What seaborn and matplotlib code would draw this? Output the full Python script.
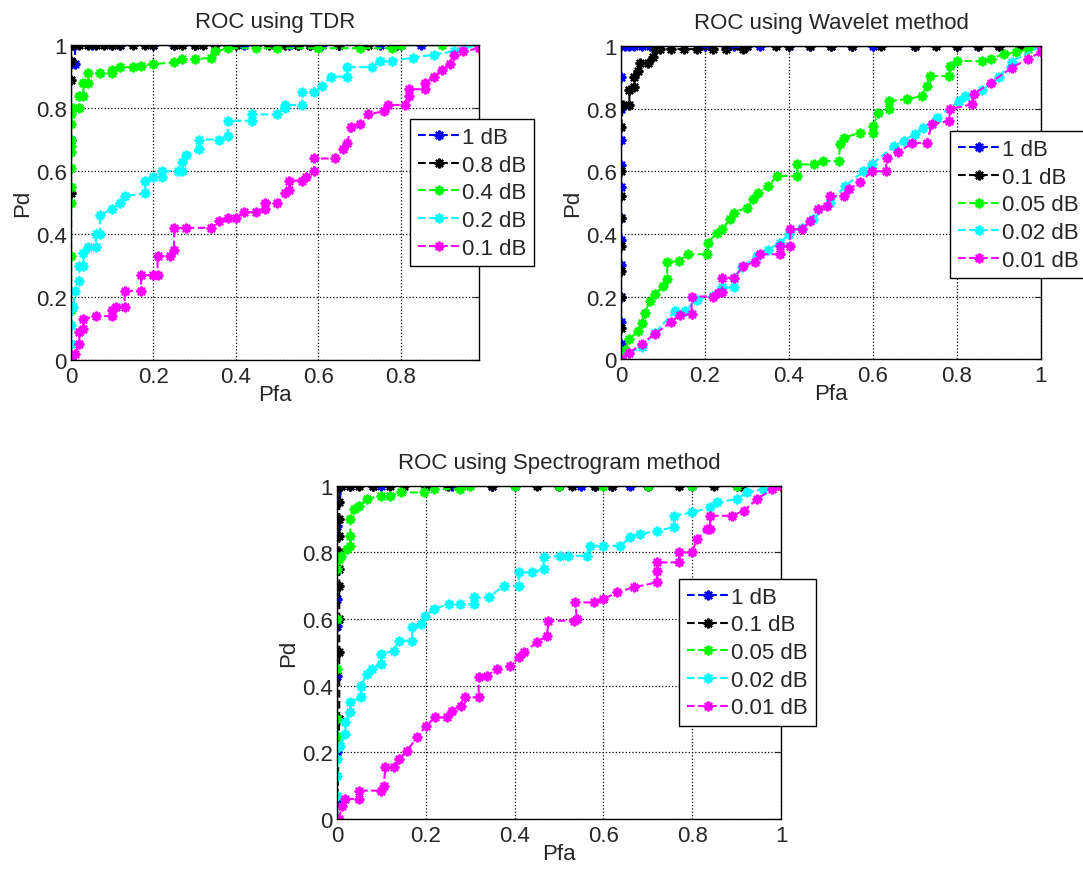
import matplotlib
matplotlib.use("Agg")
import matplotlib.pyplot as plt
import seaborn as sns
from matplotlib.ticker import FuncFormatter

# ---- data (Pfa, Pd staircase points) ----
# ROC using TDR
tdr_labels = ["1 dB", "0.8 dB", "0.4 dB", "0.2 dB", "0.1 dB"]
tdr_1db_pfa = [0, 0, 0, 0.01, 0.01, 0.05, 0.1, 0.12, 0.2, 0.25, 0.3, 0.35, 0.38, 0.42, 0.45, 0.5,
               0.53, 0.55, 0.58, 0.61, 0.65, 0.7, 0.75, 0.8, 0.85, 0.99]
tdr_1db_pd = [0, 0.70, 0.94, 0.94, 1, 1, 1, 1, 1, 1, 1, 1, 1, 1, 1, 1,
              1, 1, 1, 1, 1, 1, 1, 1, 1, 1]
tdr_08db_pfa = [0, 0, 0, 0, 0, 0.005, 0.02, 0.04, 0.06, 0.08, 0.1, 0.12, 0.15, 0.18, 0.2, 0.25,
                0.27, 0.3, 0.32, 0.35, 0.38, 0.4, 0.45, 0.48, 0.5, 0.52, 0.55, 0.58, 0.6, 0.65,
                0.7, 0.72, 0.78, 0.79, 0.99]
tdr_08db_pd = [0, 0.53, 0.89, 0.95, 1, 1, 1, 1, 1, 1, 1, 1, 1, 1, 1, 1,
               1, 1, 1, 1, 1, 1, 1, 1, 1, 1, 1, 1, 1, 1,
               1, 1, 1, 1, 1]
tdr_04db_pfa = [0, 0, 0, 0, 0, 0, 0, 0, 0, 0, 0, 0.005, 0.02, 0.02, 0.03, 0.03, 0.04, 0.04, 0.07,
                0.1, 0.1, 0.12, 0.15, 0.17, 0.2, 0.25, 0.27, 0.3, 0.34, 0.35, 0.38, 0.45, 0.5,
                0.6, 0.7, 0.78, 0.8, 0.9, 0.99]
tdr_04db_pd = [0, 0.16, 0.33, 0.5, 0.55, 0.61, 0.66, 0.68, 0.70, 0.75, 0.78, 0.80, 0.80, 0.84,
               0.84, 0.88, 0.88, 0.91, 0.91, 0.91, 0.92, 0.93, 0.93, 0.935, 0.94, 0.945, 0.955,
               0.955, 0.96, 0.98, 0.99, 0.99, 0.99, 0.99, 0.99, 0.99, 1.0, 1.0, 1.0]
tdr_02db_pfa = [0, 0, 0, 0.005, 0.01, 0.02, 0.02, 0.03, 0.03, 0.04, 0.06, 0.06, 0.07, 0.07, 0.1,
                0.12, 0.13, 0.18, 0.18, 0.2, 0.22, 0.22, 0.26, 0.27, 0.27, 0.28, 0.31, 0.31,
                0.36, 0.38, 0.38, 0.44, 0.44, 0.5, 0.52, 0.52, 0.56, 0.56, 0.59, 0.61, 0.63,
                0.67, 0.67, 0.73, 0.75, 0.78, 0.83, 0.88, 0.93, 0.95, 0.99]
tdr_02db_pd = [0, 0.05, 0.11, 0.17, 0.22, 0.25, 0.30, 0.30, 0.34, 0.36, 0.36, 0.40, 0.40, 0.46,
               0.48, 0.50, 0.52, 0.53, 0.57, 0.58, 0.58, 0.60, 0.60, 0.60, 0.63, 0.65, 0.67, 0.70,
               0.70, 0.71, 0.76, 0.76, 0.78, 0.78, 0.80, 0.81, 0.81, 0.85, 0.85, 0.87, 0.90,
               0.90, 0.93, 0.93, 0.95, 0.95, 0.96, 0.97, 0.98, 0.99, 1.0]
tdr_01db_pfa = [0, 0.01, 0.02, 0.02, 0.03, 0.03, 0.06, 0.1, 0.1, 0.11, 0.13, 0.13, 0.17, 0.17,
                0.2, 0.21, 0.21, 0.24, 0.25, 0.25, 0.28, 0.34, 0.36, 0.38, 0.4, 0.42, 0.45, 0.47,
                0.47, 0.5, 0.52, 0.53, 0.53, 0.56, 0.57, 0.59, 0.59, 0.64, 0.66, 0.67, 0.68, 0.7,
                0.72, 0.76, 0.77, 0.81, 0.82, 0.82, 0.86, 0.86, 0.88, 0.9, 0.92, 0.93, 0.95,
                0.99, 0.99]
tdr_01db_pd = [0, 0.02, 0.05, 0.09, 0.10, 0.13, 0.14, 0.14, 0.16, 0.17, 0.17, 0.22, 0.22, 0.27,
               0.27, 0.27, 0.33, 0.33, 0.35, 0.42, 0.42, 0.42, 0.44, 0.45, 0.45, 0.47, 0.47, 0.48,
               0.50, 0.50, 0.53, 0.54, 0.57, 0.57, 0.58, 0.60, 0.64, 0.64, 0.67, 0.69, 0.74, 0.75,
               0.78, 0.79, 0.81, 0.81, 0.84, 0.86, 0.86, 0.88, 0.90, 0.92, 0.94, 0.97, 0.98,
               0.99, 1.0]

# ROC using Wavelet method
wav_labels = ["1 dB", "0.1 dB", "0.05 dB", "0.02 dB", "0.01 dB"]
wav_1db_pfa = [0, 0, 0, 0, 0, 0, 0, 0, 0, 0, 0, 0, 0, 0.01, 0.02, 0.03, 0.05, 0.07, 0.09, 0.2,
               0.25, 0.27, 0.3, 0.33, 0.4, 0.45, 0.5, 0.55, 0.6, 0.7, 0.8, 0.85, 0.9, 0.95, 1.0]
wav_1db_pd = [0, 0.05, 0.12, 0.2, 0.3, 0.38, 0.45, 0.55, 0.62, 0.7, 0.8, 0.9, 1, 1, 1, 1, 1, 1,
              1, 1, 1, 1, 1, 1, 1, 1, 1, 1, 1, 1, 1, 1, 1, 1, 1]
wav_01db_pfa = [0, 0, 0, 0, 0, 0, 0, 0, 0, 0.005, 0.02, 0.02, 0.03, 0.03, 0.04, 0.045, 0.065,
                0.077, 0.08, 0.093, 0.12, 0.15, 0.18, 0.22, 0.25, 0.29, 0.3, 0.37, 0.4, 0.45,
                0.5, 0.55, 0.62, 0.7, 0.75, 0.8, 0.85, 0.9, 0.95, 1.0]
wav_01db_pd = [0, 0.1, 0.2, 0.28, 0.36, 0.45, 0.52, 0.6, 0.74, 0.81, 0.81, 0.86, 0.87, 0.9, 0.92,
               0.945, 0.945, 0.965, 0.99, 0.99, 0.99, 0.99, 0.99, 0.99, 0.99, 0.99, 1, 1, 1, 1,
               1, 1, 1, 1, 1, 1, 1, 1, 1, 1]
wav_005db_pfa = [0, 0.01, 0.02, 0.04, 0.05, 0.057, 0.069, 0.081, 0.1, 0.11, 0.11, 0.137, 0.16,
                 0.204, 0.208, 0.228, 0.24, 0.26, 0.268, 0.3, 0.315, 0.327, 0.351, 0.371, 0.419,
                 0.419, 0.46, 0.482, 0.518, 0.522, 0.53, 0.57, 0.6, 0.6, 0.613, 0.637, 0.637,
                 0.68, 0.716, 0.728, 0.736, 0.78, 0.784, 0.8, 0.86, 0.88, 0.911, 0.94, 0.97, 1.0]
wav_005db_pd = [0, 0.03, 0.064, 0.09, 0.117, 0.149, 0.186, 0.207, 0.234, 0.255, 0.31, 0.314,
                0.335, 0.335, 0.372, 0.404, 0.415, 0.447, 0.468, 0.484, 0.51, 0.532, 0.553,
                0.585, 0.585, 0.622, 0.622, 0.633, 0.633, 0.686, 0.707, 0.723, 0.723, 0.745,
                0.787, 0.798, 0.824, 0.83, 0.84, 0.872, 0.904, 0.904, 0.936, 0.952, 0.952, 0.96,
                0.973, 0.98, 0.99, 1.0]
wav_002db_pfa = [0, 0.02, 0.05, 0.081, 0.129, 0.152, 0.18, 0.22, 0.24, 0.268, 0.268, 0.288,
                 0.323, 0.35, 0.379, 0.4, 0.43, 0.458, 0.498, 0.534, 0.577, 0.597, 0.65, 0.673,
                 0.7, 0.72, 0.752, 0.804, 0.82, 0.86, 0.9, 0.93, 1.0]
wav_002db_pd = [0, 0.02, 0.04, 0.085, 0.154, 0.154, 0.19, 0.202, 0.229, 0.229, 0.26, 0.293, 0.33,
                0.35, 0.372, 0.4, 0.42, 0.447, 0.5, 0.553, 0.6, 0.622, 0.68, 0.697, 0.72, 0.739,
                0.771, 0.824, 0.84, 0.86, 0.9, 0.95, 1.0]
wav_001db_pfa = [0, 0.02, 0.05, 0.08, 0.12, 0.14, 0.168, 0.168, 0.22, 0.23, 0.24, 0.24, 0.27,
                 0.291, 0.32, 0.331, 0.379, 0.379, 0.403, 0.403, 0.43, 0.45, 0.47, 0.49, 0.498,
                 0.53, 0.542, 0.57, 0.597, 0.63, 0.633, 0.66, 0.693, 0.728, 0.74, 0.78, 0.784,
                 0.836, 0.84, 0.88, 0.93, 0.97, 1.0, 1.0]
wav_001db_pd = [0, 0.02, 0.05, 0.08, 0.12, 0.14, 0.144, 0.2, 0.2, 0.21, 0.213, 0.26, 0.26, 0.298,
                0.31, 0.335, 0.335, 0.362, 0.362, 0.415, 0.415, 0.441, 0.479, 0.49, 0.521, 0.521,
                0.543, 0.565, 0.6, 0.6, 0.643, 0.66, 0.69, 0.69, 0.75, 0.76, 0.798, 0.814, 0.846,
                0.883, 0.93, 0.96, 0.98, 1.0]

# ROC using Spectrogram method
spec_labels = ["1 dB", "0.1 dB", "0.05 dB", "0.02 dB", "0.01 dB"]
spec_1db_pfa = [0, 0, 0, 0, 0, 0, 0, 0, 0, 0.01, 0.03, 0.08, 0.1, 0.2, 0.26, 0.35, 0.4, 0.5,
                0.55, 0.58, 0.62, 0.66, 0.7, 0.8, 0.9, 1.0]
spec_1db_pd = [0, 0.06, 0.2, 0.3, 0.43, 0.58, 0.66, 0.8, 0.88, 1, 1, 1, 1, 1, 1, 1, 1, 1,
               1, 1, 1, 1, 1, 1, 1, 1]
spec_01db_pfa = [0, 0.005, 0.005, 0.005, 0.005, 0.005, 0.005, 0.005, 0.005, 0.005, 0.005, 0.01,
                 0.03, 0.05, 0.08, 0.12, 0.15, 0.2, 0.25, 0.28, 0.35, 0.45, 0.5, 0.53, 0.58, 0.62,
                 0.7, 0.77, 0.85, 0.91, 1.0]
spec_01db_pd = [0, 0.3, 0.5, 0.6, 0.7, 0.75, 0.8, 0.85, 0.9, 0.95, 1, 1, 1, 1, 1, 1, 1, 1, 1, 1,
                1, 1, 1, 1, 1, 1, 1, 1, 1, 1, 1]
spec_005db_pfa = [0, 0, 0, 0, 0, 0, 0.004, 0.01, 0.023, 0.03, 0.03, 0.03, 0.038, 0.049, 0.068,
                  0.098, 0.12, 0.143, 0.195, 0.218, 0.278, 0.3, 0.4, 0.5, 0.6, 0.7, 0.8, 0.9, 1.0]
spec_005db_pd = [0, 0.25, 0.3, 0.45, 0.6, 0.75, 0.78, 0.79, 0.81, 0.82, 0.85, 0.9, 0.93, 0.94,
                 0.96, 0.97, 0.97, 0.98, 0.98, 0.99, 0.99, 1, 1, 1, 1, 1, 1, 1, 1]
spec_002db_pfa = [0, 0, 0, 0, 0.0075, 0.019, 0.019, 0.03, 0.03, 0.053, 0.053, 0.068, 0.079,
                  0.098, 0.1, 0.128, 0.139, 0.169, 0.169, 0.188, 0.199, 0.218, 0.252, 0.278,
                  0.308, 0.308, 0.342, 0.375, 0.409, 0.409, 0.439, 0.465, 0.465, 0.503, 0.52,
                  0.563, 0.57, 0.6, 0.638, 0.66, 0.683, 0.72, 0.758, 0.758, 0.8, 0.84, 0.856,
                  0.9, 0.923, 0.96, 1.0]
spec_002db_pd = [0, 0.07, 0.13, 0.18, 0.22, 0.255, 0.29, 0.32, 0.35, 0.365, 0.4, 0.435, 0.45,
                 0.465, 0.495, 0.505, 0.535, 0.535, 0.575, 0.585, 0.61, 0.63, 0.645, 0.645, 0.645,
                 0.665, 0.665, 0.70, 0.70, 0.74, 0.74, 0.75, 0.785, 0.79, 0.79, 0.79, 0.82, 0.82,
                 0.82, 0.845, 0.855, 0.865, 0.875, 0.91, 0.92, 0.935, 0.95, 0.96, 0.98, 0.99, 1.0]
spec_001db_pfa = [0.004, 0.011, 0.019, 0.049, 0.049, 0.098, 0.105, 0.109, 0.128, 0.139, 0.158,
                  0.18, 0.2, 0.221, 0.248, 0.259, 0.28, 0.289, 0.319, 0.319, 0.338, 0.36, 0.39,
                  0.409, 0.42, 0.45, 0.473, 0.476, 0.533, 0.54, 0.537, 0.578, 0.6, 0.631, 0.668,
                  0.72, 0.72, 0.72, 0.77, 0.77, 0.8, 0.81, 0.833, 0.84, 0.84, 0.89, 0.916, 0.946,
                  0.98, 1.0]
spec_001db_pd = [0, 0.04, 0.06, 0.06, 0.085, 0.085, 0.10, 0.155, 0.155, 0.18, 0.205, 0.245, 0.28,
                 0.305, 0.305, 0.325, 0.34, 0.365, 0.365, 0.425, 0.43, 0.45, 0.46, 0.485, 0.50,
                 0.53, 0.55, 0.595, 0.595, 0.60, 0.65, 0.65, 0.66, 0.68, 0.695, 0.71, 0.745, 0.77,
                 0.77, 0.80, 0.80, 0.84, 0.87, 0.87, 0.91, 0.91, 0.925, 0.96, 0.99, 1.0]

line_colors = ["#0000ff", "#000000", "#00ff00", "#00ffff", "#ff00ff"]

panels = [
    ("ROC using TDR", tdr_labels,
     [(tdr_1db_pfa, tdr_1db_pd), (tdr_08db_pfa, tdr_08db_pd), (tdr_04db_pfa, tdr_04db_pd),
      (tdr_02db_pfa, tdr_02db_pd), (tdr_01db_pfa, tdr_01db_pd)],
     [0.0656, 0.585, 0.3767, 0.362], 0.99, (0.3786, 0.862)),
    ("ROC using Wavelet method", wav_labels,
     [(wav_1db_pfa, wav_1db_pd), (wav_01db_pfa, wav_01db_pd), (wav_005db_pfa, wav_005db_pd),
      (wav_002db_pfa, wav_002db_pd), (wav_001db_pfa, wav_001db_pd)],
     [0.5734, 0.586, 0.3878, 0.360], 1.0, (0.877, 0.848)),
    ("ROC using Spectrogram method", spec_labels,
     [(spec_1db_pfa, spec_1db_pd), (spec_01db_pfa, spec_01db_pd), (spec_005db_pfa, spec_005db_pd),
      (spec_002db_pfa, spec_002db_pd), (spec_001db_pfa, spec_001db_pd)],
     [0.3112, 0.0575, 0.41, 0.383], 1.0, (0.627, 0.3333)),
]

sns.set_style("white")
plt.rcParams["font.family"] = ["Liberation Sans", "DejaVu Sans"]

fig = plt.figure(figsize=(10.83, 8.70), dpi=100)
fmt = FuncFormatter(lambda v, pos: "%g" % round(v, 2))

for title, labels, curves, rect, xmax, leg_pos in panels:
    ax = fig.add_axes(rect)
    for (pfa, pd_), lab, col in zip(curves, labels, line_colors):
        sns.lineplot(x=pfa, y=pd_, sort=False, estimator=None, color=col, label=lab,
                     linestyle="--", linewidth=1.5, marker=(8, 2, 0), markersize=7,
                     markeredgewidth=1.6, markeredgecolor=col, ax=ax)
    ax.set_xlim(0, xmax)
    ax.set_ylim(0, 1)
    ax.set_xticks([0, 0.2, 0.4, 0.6, 0.8] + ([1.0] if xmax >= 1 else []))
    ax.set_yticks([0, 0.2, 0.4, 0.6, 0.8, 1.0])
    ax.xaxis.set_major_formatter(fmt)
    ax.yaxis.set_major_formatter(fmt)
    ax.grid(True, linestyle=":", color="black", linewidth=0.9)
    for sp in ax.spines.values():
        sp.set_color("black")
        sp.set_linewidth(1.0)
    ax.tick_params(direction="in", top=True, right=True, length=4, width=0.8,
                   labelsize=16)
    ax.tick_params(axis="x", pad=4)
    ax.tick_params(axis="y", pad=3)
    ax.set_title(title, fontsize=16, pad=13)
    ax.set_xlabel("Pfa", fontsize=16, labelpad=-2)
    ax.set_ylabel("Pd", fontsize=16, labelpad=2)
    leg = ax.legend(loc="upper left", bbox_to_anchor=leg_pos, bbox_transform=fig.transFigure,
                    fontsize=16, frameon=True, fancybox=False, shadow=False, framealpha=1,
                    edgecolor="black", borderaxespad=0, handlelength=1.9, handletextpad=0.1,
                    labelspacing=0.3, borderpad=0.35)
    leg.get_frame().set_linewidth(1.0)
    leg.set_zorder(10)

fig.savefig("out.png", dpi=100, facecolor="white")
